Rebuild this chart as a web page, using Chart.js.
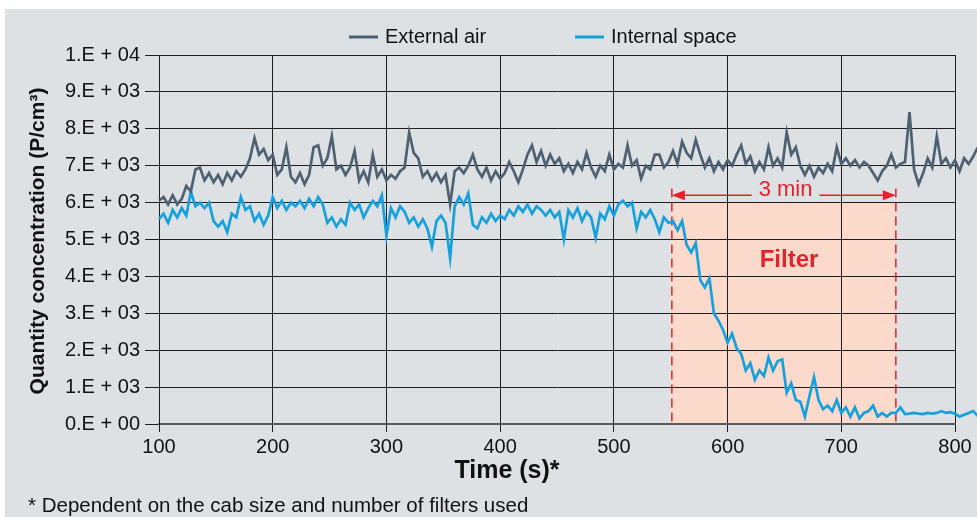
<!DOCTYPE html>
<html>
<head>
<meta charset="utf-8">
<script src="https://cdn.jsdelivr.net/npm/chart.js@4.4.1/dist/chart.umd.min.js"></script>
<style>
html, body { margin: 0; padding: 0; background: #fff; }
</style>
</head>
<body>
<canvas id="myChart" width="977" height="517"></canvas>
<script>
// time axis: one sample every 4 s, starting at 100 s
var startTime = 100;
var stepTime = 4;

// concentrations in thousands of P/cm3
var externalAir = [
    6.05, 6.15, 5.95, 6.2, 5.95, 6.1, 6.45, 6.3, 6.9, 6.95,
    6.6, 6.8, 6.55, 6.75, 6.5, 6.8, 6.6, 6.85, 6.7, 6.9,
    7.2, 7.75, 7.3, 7.45, 7.15, 7.3, 6.75, 6.9, 7.5, 6.7,
    6.55, 6.8, 6.5, 6.75, 7.5, 7.55, 7.0, 7.2, 7.8, 6.9,
    7.0, 6.75, 6.95, 7.4, 6.6, 6.85, 6.55, 7.3, 6.7, 6.9,
    6.6, 6.75, 6.65, 6.85, 6.95, 7.9, 7.35, 7.2, 6.7, 6.85,
    6.6, 6.8, 6.55, 6.75, 5.95, 6.85, 6.95, 6.8, 7.0, 7.3,
    6.9, 6.7, 6.95, 6.6, 6.85, 6.65, 6.8, 7.1, 6.85, 6.55,
    6.9, 7.3, 7.55, 7.1, 7.4, 7.0, 7.3, 7.05, 7.2, 6.85,
    7.05, 6.8, 7.1, 6.9, 7.35, 6.95, 6.7, 7.0, 6.85, 7.3,
    6.9, 7.05, 6.95, 7.55, 7.0, 7.15, 6.65, 7.0, 6.9, 7.3,
    7.3, 6.95, 7.1, 7.4, 7.05, 7.65, 7.35, 7.2, 7.7, 7.3,
    6.95, 7.2, 6.85, 7.1, 6.9, 7.15, 7.0, 7.3, 7.55, 7.05,
    7.25, 6.85, 7.1, 6.9, 7.5, 7.0, 7.2, 6.95, 7.9, 7.3,
    7.5, 7.0, 6.75, 7.0, 6.7, 6.95, 6.8, 7.05, 6.85, 7.5,
    7.05, 7.2, 7.0, 7.15, 6.95, 7.1, 7.0, 6.8, 6.6, 6.85,
    7.0, 7.3, 6.95, 7.05, 7.1, 8.45, 6.9, 6.5, 6.8, 7.2,
    6.95, 7.8, 7.05, 7.2, 6.95, 7.15, 6.85, 7.2, 7.05, 7.25,
    7.5
];
var internalSpace = [
    5.55, 5.7, 5.45, 5.8, 5.6, 5.85, 5.65, 6.3, 5.9, 6.0,
    5.85, 6.0, 5.5, 5.35, 5.5, 5.2, 5.7, 5.6, 6.15, 5.8,
    5.9, 5.5, 5.7, 5.4, 5.65, 6.15, 5.85, 6.05, 5.8, 6.0,
    5.9, 6.05, 5.85, 6.1, 5.9, 6.15, 5.95, 5.45, 5.6, 5.35,
    5.55, 5.4, 6.0, 5.8, 5.95, 5.6, 5.85, 6.05, 5.9, 6.2,
    5.1, 5.85, 5.6, 5.9, 5.75, 5.45, 5.6, 5.35, 5.55, 5.3,
    4.8, 5.5, 5.65, 5.45, 4.5, 5.9, 6.15, 5.95, 6.25, 5.4,
    5.3, 5.6, 5.45, 5.7, 5.5, 5.65, 5.55, 5.8, 5.65, 5.9,
    5.75, 5.95, 5.7, 5.9, 5.8, 5.65, 5.8, 5.6, 5.75, 5.0,
    5.8, 5.6, 5.85, 5.5, 5.75, 5.6, 5.05, 5.7, 5.55, 5.9,
    5.65, 5.95, 6.05, 5.9, 6.0, 5.3, 5.75, 5.6, 5.8, 5.55,
    5.2, 5.6, 5.45, 5.5, 5.25, 5.5, 4.85, 4.65, 4.9, 3.9,
    3.7, 3.95, 3.0, 2.8, 2.55, 2.2, 2.45, 2.05, 1.9, 1.45,
    1.65, 1.2, 1.45, 1.3, 1.8, 1.45, 1.7, 1.75, 0.85, 1.1,
    0.65, 0.6, 0.2, 0.75, 1.27, 0.65, 0.4, 0.5, 0.35, 0.65,
    0.3, 0.45, 0.2, 0.45, 0.15, 0.3, 0.35, 0.5, 0.2, 0.3,
    0.2, 0.3, 0.3, 0.45, 0.27, 0.28, 0.3, 0.28, 0.27, 0.3,
    0.28, 0.3, 0.35, 0.3, 0.32, 0.28, 0.2, 0.25, 0.3, 0.35,
    0.22
];
var yTickLabels = ['0.E + 00', '1.E + 03', '2.E + 03', '3.E + 03', '4.E + 03', '5.E + 03',
                   '6.E + 03', '7.E + 03', '8.E + 03', '9.E + 03', '1.E + 04'];
var seriesNames = ['External air', 'Internal space'];
var seriesColors = ['#4d6173', '#16a0dc'];

// filter window (s) and its level (thousand P/cm3)
var filterStart = 551, filterEnd = 748, filterLevel = 6;

var toPoints = function (arr) {
    return arr.map(function (v, i) { return { x: startTime + i * stepTime, y: v }; });
};

var RED = '#e3222b';
var FONT = '"Liberation Sans", Arial, sans-serif';

var decor = {
    id: 'decor',
    beforeDraw: function (chart) {
        var c = chart.ctx, xs = chart.scales.x, ys = chart.scales.y;
        c.save();
        c.fillStyle = '#fff';
        c.fillRect(0, 0, chart.width, chart.height);
        c.fillStyle = '#dee1e4';
        c.fillRect(5, 9, chart.width - 5, chart.height - 9);
        // filter box
        var x1 = xs.getPixelForValue(filterStart), x2 = xs.getPixelForValue(filterEnd);
        var y1 = ys.getPixelForValue(filterLevel), y2 = ys.getPixelForValue(0);
        c.fillStyle = '#fbd9cb';
        c.fillRect(x1, y1, x2 - x1, y2 - y1);
        c.restore();
    },
    beforeDatasetsDraw: function (chart) {
        var c = chart.ctx, xs = chart.scales.x, ys = chart.scales.y;
        c.save();
        c.strokeStyle = RED;
        c.lineWidth = 1.5;
        c.setLineDash([9, 5]);
        [filterStart, filterEnd].forEach(function (t) {
            var x = xs.getPixelForValue(t);
            c.beginPath();
            c.moveTo(x, ys.getPixelForValue(6.38));
            c.lineTo(x, ys.getPixelForValue(0));
            c.stroke();
        });
        c.restore();
    },
    afterDraw: function (chart) {
        var c = chart.ctx, xs = chart.scales.x, ys = chart.scales.y;
        c.save();
        // 3 min arrow
        var x1 = xs.getPixelForValue(filterStart), x2 = xs.getPixelForValue(filterEnd);
        var ya = ys.getPixelForValue(6.2);
        var xm = xs.getPixelForValue(651);
        c.font = '22px ' + FONT;
        c.fillStyle = RED;
        c.textAlign = 'center';
        c.textBaseline = 'middle';
        c.fillText('3 min', xm, ys.getPixelForValue(6.33));
        var tw = c.measureText('3 min').width;
        c.strokeStyle = RED;
        c.lineWidth = 1.5;
        c.beginPath();
        c.moveTo(x1 + 8, ya); c.lineTo(xm - tw / 2 - 7, ya);
        c.moveTo(xm + tw / 2 + 7, ya); c.lineTo(x2 - 8, ya);
        c.stroke();
        c.beginPath();
        c.moveTo(x1, ya); c.lineTo(x1 + 13, ya - 5); c.lineTo(x1 + 13, ya + 5); c.closePath();
        c.moveTo(x2, ya); c.lineTo(x2 - 13, ya - 5); c.lineTo(x2 - 13, ya + 5); c.closePath();
        c.fill();
        // Filter label
        c.font = 'bold 24px ' + FONT;
        c.fillText('Filter', xs.getPixelForValue(654), ys.getPixelForValue(4.44));

        // legend
        c.font = '20px ' + FONT;
        c.textAlign = 'left';
        c.fillStyle = '#111';
        c.lineWidth = 3;
        var legX = [349, 575];
        seriesNames.forEach(function (name, i) {
            c.strokeStyle = seriesColors[i];
            c.beginPath();
            c.moveTo(legX[i], 37); c.lineTo(legX[i] + 29, 37);
            c.stroke();
            c.fillText(name, legX[i] + 36, 37);
        });

        // axis titles
        c.font = 'bold 25px ' + FONT;
        c.textAlign = 'center';
        c.fillText('Time (s)*', 507, 471);
        c.translate(38, 241);
        c.rotate(-Math.PI / 2);
        c.font = 'bold 21px ' + FONT;
        c.fillText('Quantity concentration (P/cm³)', 0, 0);
        c.restore();

        // footnote
        c.save();
        c.font = '20.5px ' + FONT;
        c.fillStyle = '#111';
        c.textBaseline = 'middle';
        c.fillText('* Dependent on the cab size and number of filters used', 28, 506);
        c.restore();
    }
};

var ctx = document.getElementById('myChart').getContext('2d');
var myChart = new Chart(ctx, {
    type: 'line',
    data: {
        datasets: [{
            label: seriesNames[0],
            data: toPoints(externalAir),
            borderColor: seriesColors[0],
            borderWidth: 2.7,
            pointRadius: 0,
            clip: false
        }, {
            label: seriesNames[1],
            data: toPoints(internalSpace),
            borderColor: seriesColors[1],
            borderWidth: 2.7,
            pointRadius: 0,
            clip: false
        }]
    },
    options: {
        responsive: false,
        animation: false,
        devicePixelRatio: 1,
        layout: { padding: { top: 55, right: 22, bottom: 0, left: 0 } },
        plugins: {
            legend: { display: false },
            tooltip: { enabled: false }
        },
        scales: {
            x: {
                type: 'linear',
                // axis shows 100-800 s, the record runs a bit past the last grid line
                afterDataLimits: function (s) { s.min = 100; s.max = 800; },
                ticks: { stepSize: 100, color: '#111', padding: 3, font: { family: FONT, size: 20 } },
                grid: { color: '#1e1e1e', lineWidth: 1, tickLength: 8 },
                border: { color: '#5a5a5a', width: 2 },
                afterFit: function (s) { s.height = 93; }
            },
            y: {
                min: 0,
                max: 10,
                ticks: {
                    stepSize: 1,
                    color: '#111',
                    padding: 5,
                    font: { family: FONT, size: 20 },
                    callback: function (v, i) { return yTickLabels[i]; }
                },
                grid: { color: '#1e1e1e', lineWidth: 1, tickLength: 14 },
                border: { color: '#1e1e1e', width: 1 },
                afterFit: function (s) { s.width = 159; }
            }
        }
    },
    plugins: [decor]
});
</script>
</body>
</html>
